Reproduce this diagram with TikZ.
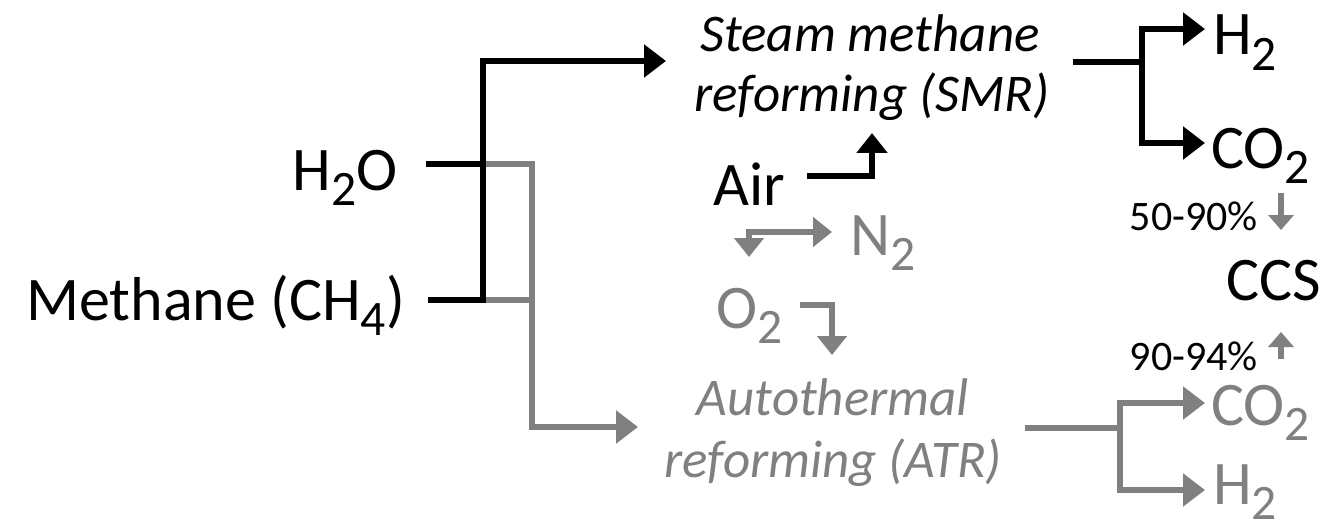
\documentclass[tikz,border=0pt]{standalone}
\usepackage{fontspec}
\setmainfont{Carlito}
\usetikzlibrary{arrows.meta}
\definecolor{gr}{HTML}{808080}
\newcommand\chsub[1]{\raisebox{-0.25em}{\scalebox{0.8}{#1}}}
\tikzset{
  big/.style={font=\fontsize{62}{68}\selectfont, inner sep=0pt},
  proc/.style={font=\fontsize{53}{60}\selectfont\itshape, inner sep=0pt},
  pct/.style={font=\fontsize{42}{46}\selectfont, inner sep=0pt},
  ln/.style={line width=6.5pt},
  arr/.style={-{Triangle[length=22pt,width=32pt]}},
  sarr/.style={line width=5.5pt,-{Triangle[length=15pt,width=25pt]}},
}
\begin{document}
\begin{tikzpicture}[x=1pt,y=-1pt]
\useasboundingbox (0,0) rectangle (1331,532);
% text nodes
\node[big,anchor=base east] (h2o) at (398,190) {H\chsub{2}O};
\node[big,anchor=base east] (meth) at (405,320) {Methane (CH\chsub{4})};
\node[proc,anchor=base] (smr1) at (870,52) {Steam methane};
\node[proc,anchor=base] (smr2) at (872,112) {reforming (SMR)};
\node[big,anchor=base west] (air) at (713,205) {Air};
\node[big,anchor=base west,text=gr] (n2) at (850,255) {N\chsub{2}};
\node[big,anchor=base west,text=gr] (o2) at (716,328) {O\chsub{2}};
\node[proc,anchor=base,text=gr] (atr1) at (833,415) {Autothermal};
\node[proc,anchor=base,text=gr] (atr2) at (833,477) {reforming (ATR)};
\node[big,anchor=base west] (h2a) at (1213,55) {H\chsub{2}};
\node[big,anchor=base west] (co2a) at (1211,168) {CO\chsub{2}};
\node[pct,anchor=base east] (p1) at (1258,230) {50-90\%};
\node[big,anchor=base west] (ccs) at (1226,300) {CCS};
\node[pct,anchor=base east] (p2) at (1258,370) {90-94\%};
\node[big,anchor=base west,text=gr] (co2b) at (1211,425) {CO\chsub{2}};
\node[big,anchor=base west,text=gr] (h2b) at (1213,504) {H\chsub{2}};
% coordinates
\coordinate (h2oL) at (426,164);
\coordinate (methL) at (428,300);
\coordinate (jA) at (483,164);
\coordinate (jB) at (483,300);
\coordinate (smrIn) at (666,61);
\coordinate (atrIn) at (638,427);
\coordinate (gx) at (532,164);
\coordinate (gy) at (532,300);
\coordinate (smrOut) at (1073,62);
\coordinate (smrJ) at (1142,62);
\coordinate (h2aIn) at (1205,29);
\coordinate (co2aIn) at (1205,143);
\coordinate (atrOut) at (1025,428);
\coordinate (atrJ) at (1120,428);
\coordinate (co2bIn) at (1205,403);
\coordinate (h2bIn) at (1205,490);
\coordinate (airOut) at (807,176);
\coordinate (airUp) at (872,133);
\coordinate (n2In) at (832,232);
\coordinate (o2Dn) at (749,257);
\coordinate (o2Out) at (800,305);
\coordinate (atrTop) at (832,355);
\coordinate (p1a) at (1281,193);
\coordinate (p1b) at (1281,230);
\coordinate (p2a) at (1281,359);
\coordinate (p2b) at (1281,332);
% gray feed lines
\draw[ln,gr,arr] (jA) -- (gx) |- (atrIn);
\draw[ln,gr] (jB) -- (gy);
% black feed lines
\draw[ln] (h2oL) -- (jA);
\draw[ln,arr] (methL) -- (jB) |- (smrIn);
% SMR products
\draw[ln] (smrOut) -- (smrJ);
\draw[ln,arr] (smrJ) |- (h2aIn);
\draw[ln,arr] (smrJ) |- (co2aIn);
% ATR products
\draw[ln,gr] (atrOut) -- (atrJ);
\draw[ln,gr,arr] (atrJ) |- (co2bIn);
\draw[ln,gr,arr] (atrJ) |- (h2bIn);
% air
\draw[ln,-{Triangle[length=20pt,width=30pt]}] (airOut) -| (airUp);
\draw[line width=5.5pt,gr,{Triangle[length=19pt,width=29pt]}-{Triangle[length=19pt,width=29pt]}] (o2Dn) |- (n2In);
\draw[line width=5.5pt,gr,-{Triangle[length=19pt,width=29pt]}] (o2Out) -| (atrTop);
% CCS arrows
\draw[sarr,gr] (p1a) -- (p1b);
\draw[sarr,gr] (p2a) -- (p2b);
\end{tikzpicture}
\end{document}
